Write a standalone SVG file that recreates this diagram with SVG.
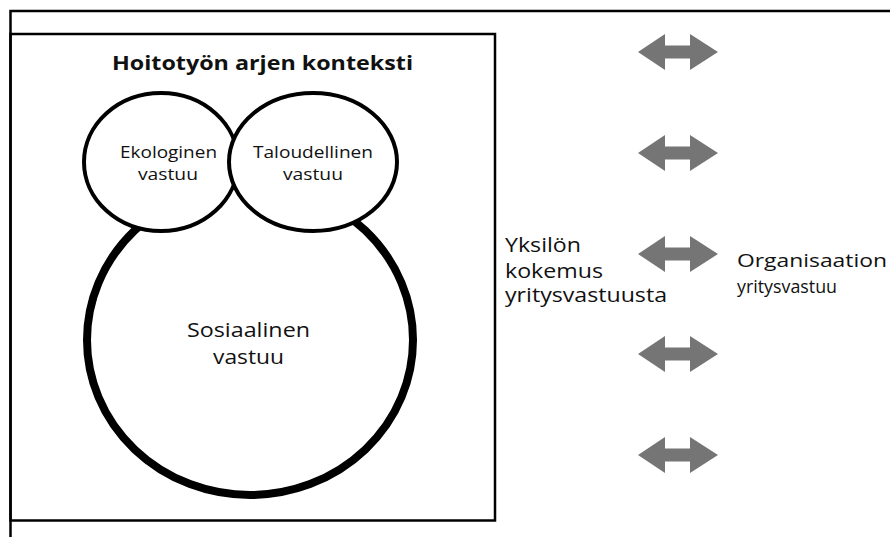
<svg xmlns="http://www.w3.org/2000/svg" width="890" height="537" viewBox="0 0 890 537">
<style>
text{font-family:"Open Sans","Noto Sans","Liberation Sans",sans-serif;fill:#111}
.small{stroke:#000;stroke-width:4;fill:#fff}
.frame{stroke:#000;stroke-width:2.5;fill:none}
.arr{fill:#757575}
</style>
<defs>
<path id="dbl" d="M-41,0 L-14,-18 L-14,-6.5 L11,-6.5 L11,-18 L39,0 L11,18 L11,6.5 L-14,6.5 L-14,18 Z"/>
</defs>
<rect width="890" height="537" fill="#fff"/>
<g id="outer-frame">
<path class="frame" d="M10.5,537 L10.5,11 L890,11"/>
</g>
<g id="context-box">
<rect class="frame" x="10.5" y="34" width="484.5" height="486.5"/>
<text x="112" y="70" font-size="19" font-weight="bold" textLength="301" lengthAdjust="spacingAndGlyphs">Hoitotyön arjen konteksti</text>
</g>
<g id="sosiaalinen">
<ellipse cx="250" cy="340" rx="163" ry="155" fill="#fff" stroke="#000" stroke-width="8"/>
<text x="187" y="337" font-size="19.5" textLength="123" lengthAdjust="spacingAndGlyphs">Sosiaalinen</text>
<text x="213" y="364" font-size="19.5" textLength="71" lengthAdjust="spacingAndGlyphs">vastuu</text>
</g>
<g id="ekologinen">
<ellipse class="small" cx="161" cy="162" rx="77" ry="69"/>
<text x="120" y="158" font-size="16" textLength="97" lengthAdjust="spacingAndGlyphs">Ekologinen</text>
<text x="138" y="180" font-size="16" textLength="60" lengthAdjust="spacingAndGlyphs">vastuu</text>
</g>
<g id="taloudellinen">
<ellipse class="small" cx="313" cy="162" rx="84" ry="69"/>
<text x="253" y="158" font-size="16" textLength="120" lengthAdjust="spacingAndGlyphs">Taloudellinen</text>
<text x="283" y="180" font-size="16" textLength="60" lengthAdjust="spacingAndGlyphs">vastuu</text>
</g>
<g id="yksilo">
<text x="505" y="252" font-size="20" textLength="76" lengthAdjust="spacingAndGlyphs">Yksilön</text>
<text x="505" y="278" font-size="20" textLength="98" lengthAdjust="spacingAndGlyphs">kokemus</text>
<text x="505" y="302" font-size="20" textLength="162" lengthAdjust="spacingAndGlyphs">yritysvastuusta</text>
</g>
<g id="organisaatio">
<text x="737" y="267" font-size="19" textLength="150" lengthAdjust="spacingAndGlyphs">Organisaation</text>
<text x="737" y="293" font-size="19" textLength="100" lengthAdjust="spacingAndGlyphs">yritysvastuu</text>
</g>
<g id="connectors" class="arr">
<use href="#dbl" x="679" y="52"/>
<use href="#dbl" x="679" y="153"/>
<use href="#dbl" x="679" y="254"/>
<use href="#dbl" x="679" y="354"/>
<use href="#dbl" x="679" y="455"/>
</g>
</svg>
